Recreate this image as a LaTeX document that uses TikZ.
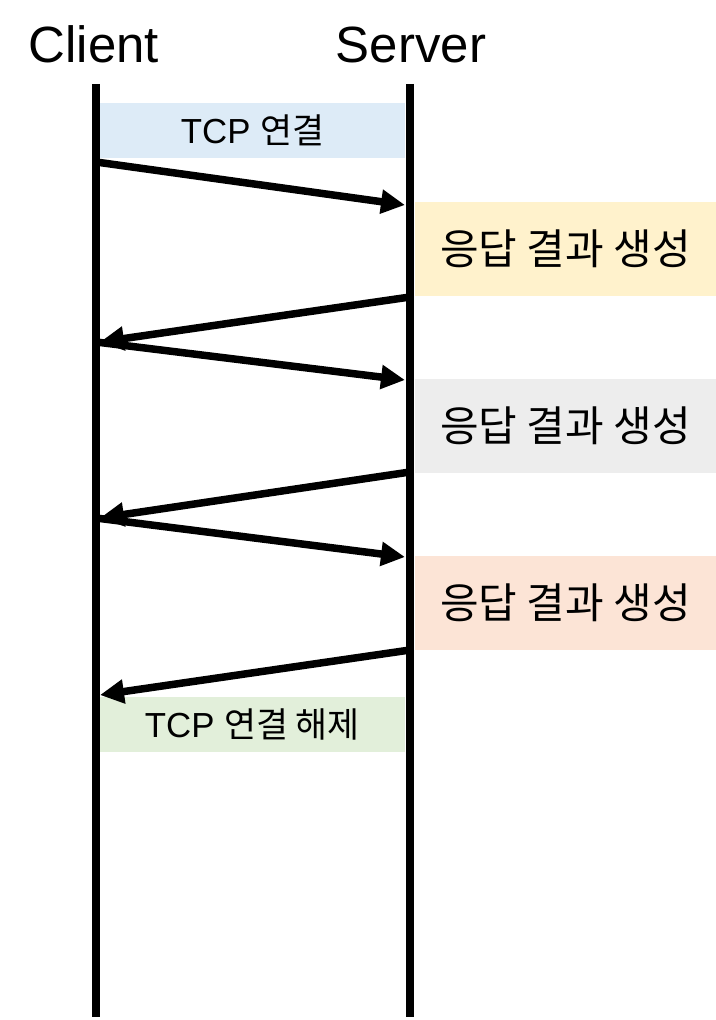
\documentclass[tikz,border=0pt]{standalone}
\usepackage{fontspec}
\setmainfont{Liberation Sans}
\newfontfamily\krfont{Noto Sans CJK KR}
\usetikzlibrary{arrows.meta}

\begin{document}
\begin{tikzpicture}[x=0.02cm,y=-0.02cm,
	lifeline/.style={line width=0.16cm},
	msg/.style={line width=0.15cm,-{Triangle[length=0.48cm,width=0.46cm]}},
	tcpbox/.style={fill=#1,inner sep=0pt,minimum width=6.1cm,minimum height=1.1cm,font=\fontsize{19.8}{23}\selectfont},
	workbox/.style={fill=#1,inner sep=0pt,minimum width=6.02cm,minimum height=1.88cm,font=\krfont\fontsize{23.9}{28}\selectfont}]

	% fix the page to the size of the reference
	\useasboundingbox (0,0) rectangle (716,1020);
	% positions of the two lifelines
	\def\cx{96}
	\def\sx{410}
	% colours
	\definecolor{connBlue}{HTML}{DDEBF7}
	\definecolor{workYellow}{HTML}{FFF2CC}
	\definecolor{workGrey}{HTML}{EDEDED}
	\definecolor{workOrange}{HTML}{FCE4D6}
	\definecolor{closeGreen}{HTML}{E2EFDA}

	% coloured boxes first, so the lines go on top
	\node[tcpbox=connBlue] (connect) at (252.5,130.5) {TCP {\krfont 연결}};
	\node[workbox=workYellow] (workA) at (565.5,249) {응답 결과 생성};
	\node[workbox=workGrey] (workB) at (565.5,426) {응답 결과 생성};
	\node[workbox=workOrange] (workC) at (565.5,603) {응답 결과 생성};
	\node[tcpbox=closeGreen] (close) at (252.5,724.5) {TCP {\krfont 연결 해제}};

	% titles over the lifelines
	\node[anchor=base,font=\fontsize{29}{33}\selectfont] (client) at (94,63) {Client};
	\node[anchor=base,font=\fontsize{29}{33}\selectfont] (server) at (411,63) {Server};

	% lifelines
	\coordinate (cTop) at (\cx,84);
	\coordinate (cBot) at (\cx,1017);
	\coordinate (sTop) at (\sx,84);
	\coordinate (sBot) at (\sx,1017);
	\draw[lifeline] (cTop) -- (cBot);
	\draw[lifeline] (sTop) -- (sBot);

	% end points of the messages on the lifelines
	\coordinate (c1) at (\cx,162);
	\coordinate (s1) at (405,205);
	\coordinate (s2) at (\sx,297);
	\coordinate (c2) at (100,342);
	\coordinate (c3) at (\cx,342);
	\coordinate (s3) at (405,380);
	\coordinate (s4) at (\sx,472);
	\coordinate (c4) at (100,518);
	\coordinate (c5) at (\cx,518);
	\coordinate (s5) at (405,557);
	\coordinate (s6) at (\sx,650);
	\coordinate (c6) at (100,695);

	% messages
	\draw[msg] (c1) -- (s1);
	\draw[msg] (s2) -- (c2);
	\draw[msg] (c3) -- (s3);
	\draw[msg] (s4) -- (c4);
	\draw[msg] (c5) -- (s5);
	\draw[msg] (s6) -- (c6);

\end{tikzpicture}
\end{document}
